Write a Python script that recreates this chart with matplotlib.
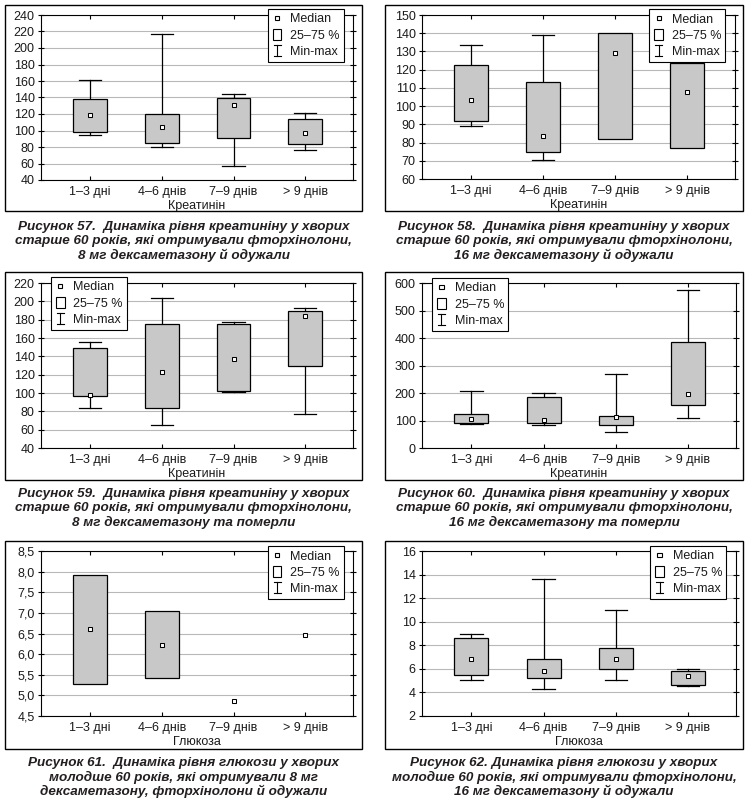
import matplotlib
matplotlib.use("Agg")
import matplotlib.pyplot as plt
from matplotlib.patches import Rectangle
from matplotlib.lines import Line2D
from matplotlib.legend_handler import HandlerBase
from matplotlib.ticker import FuncFormatter, MultipleLocator

plt.rcParams['font.family'] = ['Liberation Sans', 'DejaVu Sans']

W, H = 749, 808

categories = ["1–3 дні", "4–6 днів", "7–9 днів", "> 9 днів"]

# Panel data: min, q1, median, q3, max for each category
p57_min = [95, 79.6, 56.6, 76]
p57_q1 = [98.6, 84.4, 91, 83.2]
p57_med = [118.4, 103.8, 130.5, 96.6]
p57_q3 = [137.8, 119.6, 139, 113.5]
p57_max = [160.8, 216.6, 143.8, 120.8]

p58_min = [88.9, 70.6, 82, 77]
p58_q1 = [91.6, 74.6, 82, 77]
p58_med = [103.2, 83.6, 129, 107.6]
p58_q3 = [122.7, 113.1, 140.3, 123.5]
p58_max = [133.4, 138.8, 140.3, 123.5]

p59_min = [83.1, 65.6, 100.6, 77.6]
p59_q1 = [96.2, 83.1, 101.7, 129.1]
p59_med = [98.1, 123.2, 137.1, 183.9]
p59_q3 = [149.5, 175.1, 175, 189]
p59_max = [155.4, 203.6, 178, 192.3]

p60_min = [89, 85, 58.4, 110.8]
p60_q1 = [91, 92.5, 85, 154.6]
p60_med = [105, 103.5, 114.4, 197]
p60_q3 = [124, 184, 118, 384.6]
p60_max = [209, 201, 270, 573]

p61_min = [5.27, 5.42, 4.855, 6.46]
p61_q1 = [5.27, 5.42, 4.855, 6.46]
p61_med = [6.62, 6.22, 4.855, 6.46]
p61_q3 = [7.93, 7.05, 4.855, 6.46]
p61_max = [7.93, 7.05, 4.855, 6.46]

p62_min = [5.03, 4.27, 5.09, 4.55]
p62_q1 = [5.46, 5.2, 5.97, 4.61]
p62_med = [6.85, 5.86, 6.85, 5.37]
p62_q3 = [8.66, 6.82, 7.73, 5.8]
p62_max = [9.0, 13.62, 10.98, 5.97]

xlabels = ["Креатинін", "Креатинін", "Креатинін", "Креатинін", "Глюкоза", "Глюкоза"]

captions = [
    ["Рисунок 57.  Динаміка рівня креатиніну у хворих",
     "старше 60 років, які отримували фторхінолони,",
     "8 мг дексаметазону й одужали"],
    ["Рисунок 58.  Динаміка рівня креатиніну у хворих",
     "старше 60 років, які отримували фторхінолони,",
     "16 мг дексаметазону й одужали"],
    ["Рисунок 59.  Динаміка рівня креатиніну у хворих",
     "старше 60 років, які отримували фторхінолони,",
     "8 мг дексаметазону та померли"],
    ["Рисунок 60.  Динаміка рівня креатиніну у хворих",
     "старше 60 років, які отримували фторхінолони,",
     "16 мг дексаметазону та померли"],
    ["Рисунок 61.  Динаміка рівня глюкози у хворих",
     "молодше 60 років, які отримували 8 мг",
     "дексаметазону, фторхінолони й одужали"],
    ["Рисунок 62. Динаміка рівня глюкози у хворих",
     "молодше 60 років, які отримували фторхінолони,",
     "16 мг дексаметазону й одужали"],
]

legend_labels = ["Median", "25–75 %", "Min-max"]

panels = [
    (p57_min, p57_q1, p57_med, p57_q3, p57_max),
    (p58_min, p58_q1, p58_med, p58_q3, p58_max),
    (p59_min, p59_q1, p59_med, p59_q3, p59_max),
    (p60_min, p60_q1, p60_med, p60_q3, p60_max),
    (p61_min, p61_q1, p61_med, p61_q3, p61_max),
    (p62_min, p62_q1, p62_med, p62_q3, p62_max),
]

ylims = [(40, 240, 20), (60, 150, 10), (40, 220, 20), (0, 600, 100), (4.5, 8.5, 0.5), (2, 16, 2)]

# layout in pixels: (left, top, right, bottom)
axes_px = [(41, 15, 353, 180), (422, 15, 735, 179),
           (41, 283, 353, 448), (422, 283, 736, 448),
           (41, 551, 353, 716), (422, 551, 736, 716)]
frames_px = [(5, 5, 362, 211), (385, 5, 743, 211),
             (5, 272, 362, 480), (385, 272, 743, 480),
             (5, 541, 362, 749), (385, 541, 743, 749)]
caption_y = [(227, 241, 255), (227, 241, 255),
             (494, 508, 522), (494, 508, 522),
             (763, 777, 791), (763, 777, 791)]
legend_loc = [("upper right", (0.970, 1.035)), ("upper right", (0.968, 1.035)),
              ("upper left", (0.032, 1.036)), ("upper left", (0.032, 1.03)),
              ("upper right", (0.970, 1.028)), ("upper right", (0.968, 1.03))]

BOXC = '#c8c8c8'
GRIDC = '#b8b8b8'
TXT = '#1a1a1a'


class HMedian(HandlerBase):
    def create_artists(self, legend, orig_handle, xd, yd, w, h, fs, trans):
        cx = -xd + w / 2
        cy = -yd + h / 2
        r = Rectangle((cx - 1.5, cy - 1.5), 3.0, 3.0, fc='white', ec='black', lw=0.8, transform=trans)
        return [r]


class HBox(HandlerBase):
    def create_artists(self, legend, orig_handle, xd, yd, w, h, fs, trans):
        cx = -xd + w / 2
        cy = -yd + h / 2
        r = Rectangle((cx - 3.0, cy - 4.0), 6.0, 8.0, fc='white', ec='black', lw=0.8, transform=trans)
        return [r]


class HBeam(HandlerBase):
    def create_artists(self, legend, orig_handle, xd, yd, w, h, fs, trans):
        cx = -xd + w / 2
        cy = -yd + h / 2
        a = Line2D([cx, cx], [cy - 4.0, cy + 4.0], color='black', lw=0.8, transform=trans)
        b = Line2D([cx - 2.6, cx + 2.6], [cy + 4.0, cy + 4.0], color='black', lw=0.8, transform=trans)
        c = Line2D([cx - 2.6, cx + 2.6], [cy - 4.0, cy - 4.0], color='black', lw=0.8, transform=trans)
        return [a, b, c]


class KMed: pass
class KBox: pass
class KBeam: pass


def rect(px):
    l, t, r, b = px
    return [l / W, 1 - b / H, (r - l) / W, (b - t) / H]


fig = plt.figure(figsize=(W / 100, H / 100), dpi=100)

for i, (data, (y0, y1, step)) in enumerate(zip(panels, ylims)):
    mn, q1, med, q3, mx = data
    ax = fig.add_axes(rect(axes_px[i]))
    x = list(range(len(categories)))
    bw = 0.47
    cw = 0.31
    for k in x:
        if q3[k] > q1[k]:
            ax.bar(k, q3[k] - q1[k], bottom=q1[k], width=bw, color=BOXC,
                   edgecolor='black', linewidth=0.9, zorder=3)
        if mx[k] > q3[k]:
            ax.plot([k, k], [q3[k], mx[k]], color='black', lw=0.9, zorder=2)
            ax.plot([k - cw / 2, k + cw / 2], [mx[k], mx[k]], color='black', lw=0.9, zorder=2)
        if mn[k] < q1[k]:
            ax.plot([k, k], [mn[k], q1[k]], color='black', lw=0.9, zorder=2)
            ax.plot([k - cw / 2, k + cw / 2], [mn[k], mn[k]], color='black', lw=0.9, zorder=2)
    ax.plot(x, med, linestyle='none', marker='s', ms=2.8, mfc='white', mec='black',
            mew=0.75, zorder=4)

    ax.set_xlim(-0.684, 3.665)
    ax.set_ylim(y0, y1)
    ax.yaxis.set_major_locator(MultipleLocator(step))
    if step < 1:
        ax.yaxis.set_major_formatter(FuncFormatter(lambda v, p: f"{v:.1f}".replace('.', ',')))
    else:
        ax.yaxis.set_major_formatter(FuncFormatter(lambda v, p: f"{int(round(v))}"))
    ax.set_xticks(x)
    ax.set_xticklabels(categories)
    ax.grid(axis='y', color=GRIDC, lw=0.8, zorder=0)
    ax.set_axisbelow(True)
    for s in ax.spines.values():
        s.set_linewidth(0.8)
        s.set_color('black')
    ax.tick_params(axis='y', which='both', direction='inout', length=4, width=0.8,
                   labelsize=9, pad=2.5, right=True, labelcolor=TXT)
    ax.tick_params(axis='x', which='both', direction='in', length=3, width=0.8,
                   labelsize=9, pad=4.5, top=True, labelcolor=TXT)
    ax.set_xlabel(xlabels[i], fontsize=9, labelpad=1.0, color=TXT)

    loc, anchor = legend_loc[i]
    leg = ax.legend([KMed(), KBox(), KBeam()], legend_labels, loc=loc,
                    bbox_to_anchor=anchor, borderaxespad=0,
                    handler_map={KMed: HMedian(), KBox: HBox(), KBeam: HBeam()},
                    fontsize=9, handlelength=0.9, handleheight=0.9,
                    handletextpad=0.6, labelspacing=0.3, borderpad=0.3,
                    fancybox=False, framealpha=1, edgecolor='black', labelcolor=TXT)
    leg.get_frame().set_linewidth(0.8)
    leg.set_zorder(10)

    # outer frame
    l, t, r, b = frames_px[i]
    fig.add_artist(Rectangle((l / W, 1 - b / H), (r - l) / W, (b - t) / H,
                             transform=fig.transFigure, fill=False, ec='black', lw=1.0))
    # caption
    cx = (l + r) / 2 / W
    for line, yy in zip(captions[i], caption_y[i]):
        fig.text(cx, 1 - yy / H, line, ha='center', va='center', fontsize=9.7,
                 fontweight='bold', fontstyle='italic', color='#231f20')

fig.savefig("out.png", dpi=100)
